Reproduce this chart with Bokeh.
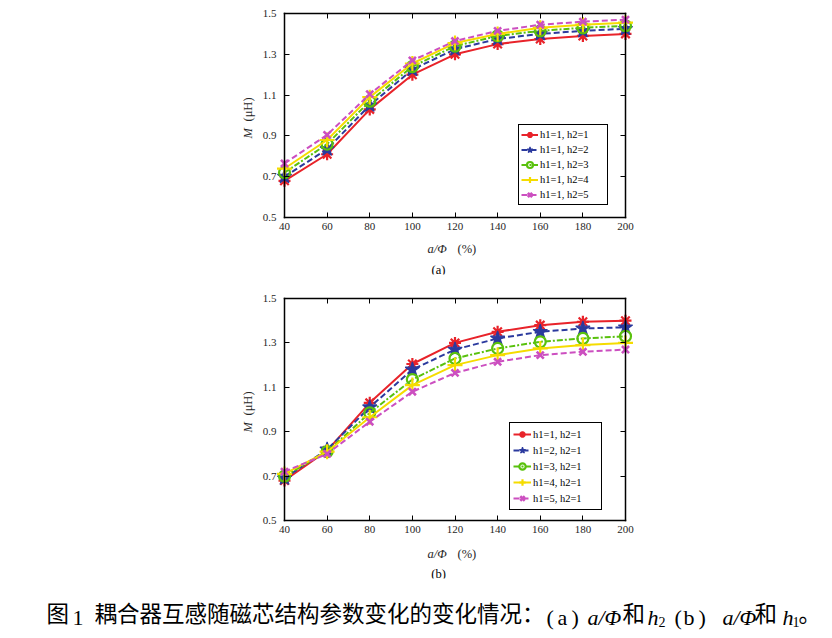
import math
from bokeh.plotting import figure
from bokeh.models import Range1d, FixedTicker, LinearAxis, Legend, LegendItem, Label
from bokeh.layouts import column
from bokeh.embed import file_html
from bokeh.resources import INLINE

# ---------------- data ----------------
ratio_pct = [40, 60, 80, 100, 120, 140, 160, 180, 200]
x_ticks = [40, 60, 80, 100, 120, 140, 160, 180, 200]
y_ticks = [0.5, 0.7, 0.9, 1.1, 1.3, 1.5]

labels_a = ["h1=1, h2=1", "h1=1, h2=2", "h1=1, h2=3", "h1=1, h2=4", "h1=1, h2=5"]
m_a_h2_1 = [0.68, 0.81, 1.03, 1.20, 1.30, 1.35, 1.375, 1.39, 1.40]
m_a_h2_2 = [0.70, 0.835, 1.05, 1.225, 1.325, 1.375, 1.40, 1.415, 1.425]
m_a_h2_3 = [0.72, 0.86, 1.07, 1.24, 1.34, 1.39, 1.415, 1.43, 1.44]
m_a_h2_4 = [0.74, 0.88, 1.09, 1.255, 1.355, 1.40, 1.43, 1.445, 1.455]
m_a_h2_5 = [0.765, 0.905, 1.105, 1.27, 1.365, 1.415, 1.445, 1.46, 1.47]

labels_b = ["h1=1, h2=1", "h1=2, h2=1", "h1=3, h2=1", "h1=4, h2=1", "h1=5, h2=1"]
m_b_h1_1 = [0.68, 0.815, 1.03, 1.205, 1.30, 1.35, 1.38, 1.395, 1.40]
m_b_h1_2 = [0.69, 0.82, 1.01, 1.18, 1.27, 1.32, 1.35, 1.365, 1.37]
m_b_h1_3 = [0.70, 0.81, 0.985, 1.135, 1.23, 1.275, 1.305, 1.32, 1.33]
m_b_h1_4 = [0.71, 0.81, 0.965, 1.11, 1.20, 1.245, 1.275, 1.29, 1.30]
m_b_h1_5 = [0.72, 0.80, 0.945, 1.08, 1.165, 1.215, 1.245, 1.26, 1.27]

SERIF = "Liberation Serif"
CJK = "Noto Sans CJK SC"

STYLES = [
    dict(color="#e8232a", dash="solid", marker="asterisk", size=12, lw=2.0, mlw=2.2, fill=False),
    dict(color="#2b3a9e", dash="6 3", marker="star", size=15, lw=2.0, mlw=1.2, fill=True),
    dict(color="#59c10d", dash="6 2 2 2", marker="circle", size=11, lw=2.0, mlw=2.2, fill=False),
    dict(color="#f5dc00", dash="solid", marker="cross", size=15, lw=2.0, mlw=2.2, fill=False),
    dict(color="#cc4fc0", dash="6 3", marker="x", size=10, lw=2.0, mlw=2.6, fill=False),
]

# ---------------- page geometry (px) ----------------
W = 832
LEFT_B = 40                 # common left border of all figures
BOX_L, BOX_R = 284, 625     # data box left/right (page px)
X0, X1 = 40, 200
Y0, Y1 = 0.5, 1.5


def fx_box(px):
    return X0 + (px - BOX_L) * (X1 - X0) / (BOX_R - BOX_L)


def make_fig(page_top, page_bottom, top_border, bottom_border, fx, fy):
    p = figure(width=W, height=page_bottom - page_top,
               x_range=Range1d(fx(LEFT_B), fx(W)),
               y_range=Range1d(fy(page_bottom - bottom_border), fy(page_top + top_border)),
               x_axis_type=None, y_axis_type=None,
               output_backend="svg", toolbar_location=None, tools="",
               min_border_left=LEFT_B, min_border_right=0, min_border_top=top_border,
               min_border_bottom=bottom_border)
    p.outline_line_color = None
    p.background_fill_color = "white"
    p.border_fill_color = "white"

    def put(text, px, py, size="12.5px", font=SERIF, style="normal", align="left",
            baseline="alphabetic", angle=0.0, color="#262626"):
        p.add_layout(Label(x=fx(px), y=fy(py), x_units="data", y_units="data", text=text,
                           angle=angle, text_align=align, text_baseline=baseline,
                           text_font=font, text_font_style=style, text_font_size=size,
                           text_line_height=1.0, text_color=color))
    return p, put


def add_axes(p):
    common = dict(minor_tick_line_color=None, minor_tick_in=0, minor_tick_out=0,
                  axis_line_color="black", axis_line_width=1.5, axis_label_standoff=0,
                  axis_line_cap="square", major_tick_line_color="black", major_tick_line_width=1,
                  major_label_text_line_height=1.0)
    lab = dict(major_label_text_font=SERIF, major_label_text_font_size="11px",
               major_label_text_color="#262626")
    xb = LinearAxis(fixed_location=Y0, bounds=(X0, X1), ticker=FixedTicker(ticks=x_ticks),
                    major_tick_in=5, major_tick_out=0, major_label_standoff=5, **lab, **common)
    xt = LinearAxis(fixed_location=Y1, bounds=(X0, X1), ticker=FixedTicker(ticks=x_ticks),
                    major_tick_in=5, major_tick_out=0, major_label_standoff=0,
                    major_label_text_font_size="0px",
                    major_label_overrides={t: "" for t in x_ticks}, **common)
    yl = LinearAxis(fixed_location=X0, bounds=(Y0, Y1), ticker=FixedTicker(ticks=y_ticks),
                    major_tick_in=5, major_tick_out=0, major_label_standoff=8, **lab, **common)
    yr = LinearAxis(fixed_location=X1, bounds=(Y0, Y1), ticker=FixedTicker(ticks=y_ticks),
                    major_tick_in=0, major_tick_out=5, major_label_standoff=0,
                    major_label_text_font_size="0px",
                    major_label_overrides={t: "" for t in y_ticks}, **common)
    p.add_layout(xb, "below")
    p.add_layout(xt, "above")
    p.add_layout(yl, "left")
    p.add_layout(yr, "left")


def add_series(p, series, labels, legend_loc, item_h, pad, gw):
    items = []
    for ys, lab, st in zip(series, labels, STYLES):
        lr = p.line(ratio_pct, ys, line_color=st["color"], line_width=st["lw"], line_dash=st["dash"])
        sr = p.scatter(ratio_pct, ys, marker=st["marker"], size=st["size"],
                       line_color=st["color"], line_width=st["mlw"],
                       fill_color=st["color"] if st["fill"] else None)
        items.append(LegendItem(label=lab, renderers=[lr, sr]))
    leg = Legend(items=items, location=legend_loc, orientation="vertical",
                 border_line_color="black", border_line_width=1.5, border_line_alpha=1.0,
                 background_fill_color="white", background_fill_alpha=1.0,
                 padding=pad, spacing=0, margin=0,
                 glyph_width=gw, glyph_height=item_h, label_height=item_h,
                 label_width=65, label_standoff=2,
                 label_text_font=SERIF, label_text_font_size="10.5px",
                 label_text_color="black")
    p.add_layout(leg)


series_a = [m_a_h2_1, m_a_h2_2, m_a_h2_3, m_a_h2_4, m_a_h2_5]
series_b = [m_b_h1_1, m_b_h1_2, m_b_h1_3, m_b_h1_4, m_b_h1_5]

# panel (a): canvas page y 0..293, data box 13..217
A_TOP, A_BOT, A_TB, A_BB = 0, 293, 6, 19
pa, put_a = make_fig(A_TOP, A_BOT, A_TB, A_BB, fx_box,
                     lambda py: Y0 + (217 - py) * (Y1 - Y0) / 204)
add_axes(pa)
add_series(pa, series_a, labels_a, (518 - LEFT_B, (A_BOT - A_BB) - 205), 15, 2, 17)

# panel (b): canvas page y 293..597, data box 298..520
B_TOP, B_BOT, B_TB, B_BB = 293, 597, 1, 19
pb, put_b = make_fig(B_TOP, B_BOT, B_TB, B_BB, fx_box,
                     lambda py: Y0 + (520 - py) * (Y1 - Y0) / 222)
add_axes(pb)
add_series(pb, series_b, labels_b, (509 - LEFT_B, (B_BOT - B_BB) - 510), 16, 3, 18)

# caption strip: canvas page y 597..638, page coordinates directly
C_TOP, C_BOT = 597, 638
pc, put_c = make_fig(C_TOP, C_BOT, 0, 0, lambda px: px, lambda py: -py)

# y-axis labels  M (μH)
for put, yc in ((put_a, 115), (put_b, 409)):
    put("M", 247, yc + 23, style="italic", angle=math.pi / 2)
    put("(μH)", 247, yc + 6, angle=math.pi / 2)

# x-axis labels and sub-captions
for put, xb, cb, cap in ((put_a, 248, 269, "(a)"), (put_b, 553, 573, "(b)")):
    put("a/Φ", 427, xb, style="italic")
    put("(%)", 457, xb)
    put(cap, 438, cb, align="center", color="black")

# figure caption
CJ = "22.5px"
LT = "22px"
for txt, px in (("图", 46), ("耦合器互感随磁芯结构参数变化的变化情况：", 94),
                ("和", 622), ("和", 754), ("。", 798)):
    put_c(txt, px, 611, size=CJ, font=CJK, baseline="middle", color="black")
for txt, px in (("1", 72), ("(", 546), ("a", 557), (")", 571),
                ("(", 674), ("b", 683), (")", 698)):
    put_c(txt, px, 617, size=LT, color="black")
for txt, px in (("a/Φ", 587), ("h", 647), ("a/Φ", 722), ("h", 782)):
    put_c(txt, px, 617, size=LT, style="italic", color="black")
for txt, px in (("2", 658), ("1", 792)):
    put_c(txt, px, 621, size="14px", color="black")

layout = column(pa, pb, pc)
open("out.html", "w").write(file_html(layout, INLINE))
